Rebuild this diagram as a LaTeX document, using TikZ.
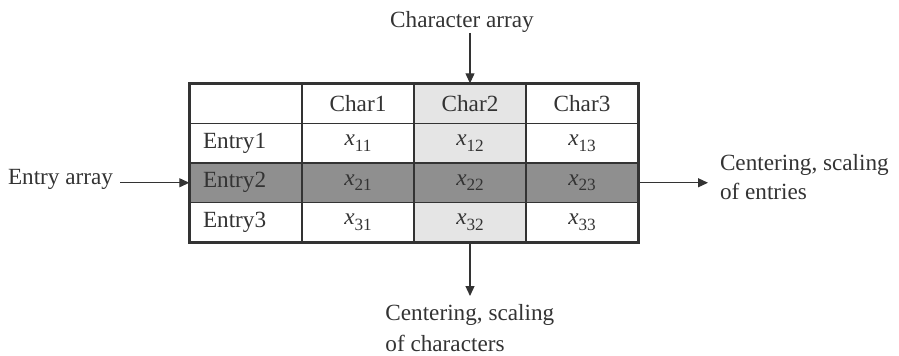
\documentclass[tikz,border=0pt]{standalone}
\usepackage{fontspec}
\setmainfont{Liberation Serif}
\usetikzlibrary{arrows.meta, positioning}

\definecolor{ink}{gray}{0.2}
\definecolor{lightcell}{gray}{0.9}
\definecolor{darkcell}{gray}{0.56}

% x with a lowered index
\newcommand{\xij}[1]{\textit{x}\raisebox{-0.5ex}{\fontsize{8.6}{9}\selectfont #1}}

\begin{document}
\begin{tikzpicture}[x=0.5pt, y=-0.5pt, >={Triangle[length=5pt, width=4.5pt]},
	cell/.style={draw=ink, line width=0.7pt, minimum width=56pt, minimum height=19.75pt,
		inner sep=0pt, text=ink, font=\fontsize{11.6}{14}\selectfont},
	entry/.style={cell, inner xsep=6.5pt, text width=43pt, align=left},
	lbl/.style={inner sep=0pt, text=ink, align=left, font=\fontsize{11.6}{14}\selectfont}]
	\useasboundingbox (0,0) rectangle (899,355);
	%%% Header row
	\node[cell] (corner) at (246,103.75) {};
	\node[cell] (char1) at (358,103.75) {Char1};
	\node[cell, fill=lightcell] (char2) at (470,103.75) {Char2};
	\node[cell] (char3) at (582,103.75) {Char3};
	%%% Entry1
	\node[entry] (entry1) at (246,143.25) {Entry1};
	\node[cell] (x11) at (358,143.25) {\xij{11}};
	\node[cell, fill=lightcell] (x12) at (470,143.25) {\xij{12}};
	\node[cell] (x13) at (582,143.25) {\xij{13}};
	%%% Entry2 (dark row)
	\node[entry, fill=darkcell] (entry2) at (246,182.75) {Entry2};
	\node[cell, fill=darkcell] (x21) at (358,182.75) {\xij{21}};
	\node[cell, fill=darkcell] (x22) at (470,182.75) {\xij{22}};
	\node[cell, fill=darkcell] (x23) at (582,182.75) {\xij{23}};
	%%% Entry3
	\node[entry] (entry3) at (246,222.25) {Entry3};
	\node[cell] (x31) at (358,222.25) {\xij{31}};
	\node[cell, fill=lightcell] (x32) at (470,222.25) {\xij{32}};
	\node[cell] (x33) at (582,222.25) {\xij{33}};
	%%% Frame
	\draw[ink, line width=1.5pt] (corner.north west) rectangle (x33.south east);
	%%% Labels
	\node[lbl, anchor=north] (chararr) at (462,11) {Character array};
	\node[lbl, anchor=north east, outer xsep=3.5pt] (entryarr) at (120,169) {Entry array};
	\node[lbl, anchor=north west, outer xsep=6pt, font=\fontsize{11.6}{14.5}\selectfont] (rowout) at (708,154) {Centering, scaling\\of entries};
	\node[lbl, anchor=north west, outer ysep=4pt, font=\fontsize{11.6}{15.5}\selectfont] (colout) at (385,296) {Centering, scaling\\of characters};
	%%% Arrows
	\draw[->, ink, line width=0.6pt] (char2.north |- chararr.south) -- (char2.north);
	\draw[->, ink, line width=0.6pt] (entryarr.east |- entry2.west) -- (entry2.west);
	\draw[->, ink, line width=0.6pt] (x23.east) -- (rowout.west |- x23.east);
	\draw[->, ink, line width=0.6pt] (x32.south) -- (x32.south |- colout.north);
\end{tikzpicture}
\end{document}
